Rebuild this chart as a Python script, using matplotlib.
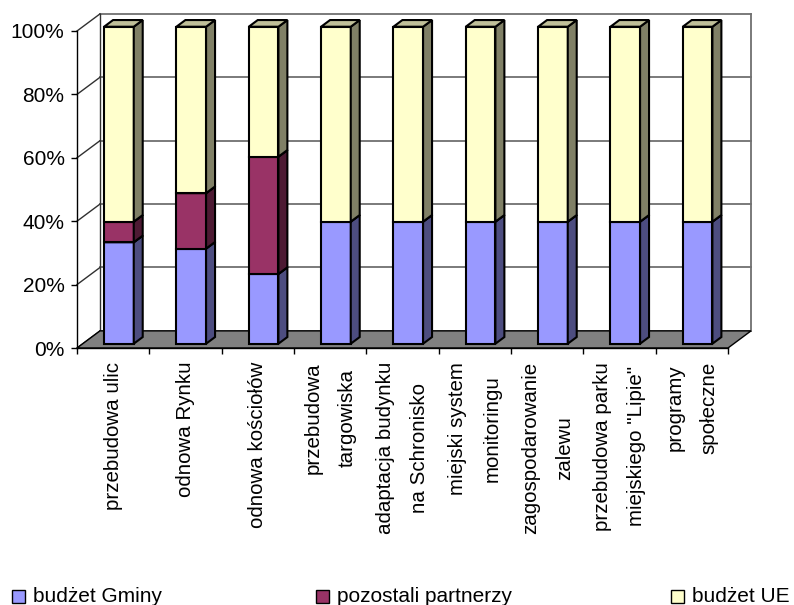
import matplotlib
matplotlib.use('Agg')
import matplotlib.pyplot as plt
from matplotlib.patches import Polygon, Rectangle

plt.rcParams['font.family'] = ['Liberation Sans', 'DejaVu Sans']

# Data: share of each funding source per project (%)
categories = [
    'przebudowa ulic',
    'odnowa Rynku',
    'odnowa kościołów',
    'przebudowa\ntargowiska',
    'adaptacja budynku\nna Schronisko',
    'miejski system\nmonitoringu',
    'zagospodarowanie\nzalewu',
    'przebudowa parku\nmiejskiego "Lipie"',
    'programy\nspołeczne',
]
budzet_gminy = [32, 30, 22, 38.5, 38.5, 38.5, 38.5, 38.5, 38.5]
pozostali_partnerzy = [6.5, 17.5, 37, 0, 0, 0, 0, 0, 0]
budzet_ue = [61.5, 52.5, 41, 61.5, 61.5, 61.5, 61.5, 61.5, 61.5]
series_names = ['budżet Gminy', 'pozostali partnerzy', 'budżet UE']
y_ticks = [0, 20, 40, 60, 80, 100]

# colours: front face, side face, top face
colors = [
    ('#9999FF', '#4D4D80', '#7373BF'),
    ('#993366', '#4D1A33', '#732650'),
    ('#FFFFCC', '#808066', '#C0C099'),
]

# oblique depth offset (x in category units, y in percent)
DX, DY = 0.318, 5.4
D0, D1 = 0.25, 0.64   # front / back depth of the columns
W = 0.41              # column width

W_PX, H_PX = 794, 605
fig = plt.figure(figsize=(W_PX / 100, H_PX / 100), dpi=100)
fig.patch.set_facecolor('white')
ax = fig.add_axes([77 / W_PX, (H_PX - 348) / H_PX, 651 / W_PX, 317 / H_PX])
n = len(categories)
ax.set_xlim(0, n)
ax.set_ylim(0, 100)
ax.patch.set_visible(False)


def p(x, y, d):
    return (x + d * DX, y + d * DY)


grid_col = '#707070'

# back wall with gridlines
for v in y_ticks:
    ax.plot([DX, n + DX], [v + DY, v + DY], color=grid_col, lw=1.3,
            clip_on=False, zorder=1)
    ax.plot([0, DX], [v, v + DY], color='#303030', lw=1.0,
            clip_on=False, zorder=1)
ax.plot([DX, DX], [DY, 100 + DY], color='#303030', lw=1.0, clip_on=False, zorder=1)
ax.plot([n + DX, n + DX], [DY, 100 + DY], color=grid_col, lw=1.3, clip_on=False, zorder=1)

# floor
floor = Polygon([p(0, 0, 0), p(n, 0, 0), p(n, 0, 1), p(0, 0, 1)], closed=True,
                facecolor='#808080', edgecolor='black', lw=1.0,
                clip_on=False, zorder=2)
ax.add_patch(floor)

# columns
stack = [budzet_gminy, pozostali_partnerzy, budzet_ue]
for i in range(n):
    xl = i + 0.5 - W / 2
    xr = i + 0.5 + W / 2
    bottom = 0
    for s, vals in enumerate(stack):
        v = vals[i]
        if v <= 0:
            continue
        top = bottom + v
        front_c, side_c, top_c = colors[s]
        kw = dict(closed=True, edgecolor='black', lw=1.5, clip_on=False,
                  joinstyle='miter', zorder=3)
        ax.add_patch(Polygon([p(xl, bottom, D0), p(xr, bottom, D0),
                              p(xr, top, D0), p(xl, top, D0)],
                             facecolor=front_c, **kw))
        ax.add_patch(Polygon([p(xr, bottom, D0), p(xr, bottom, D1),
                              p(xr, top, D1), p(xr, top, D0)],
                             facecolor=side_c, **kw))
        ax.add_patch(Polygon([p(xl, top, D0), p(xr, top, D0),
                              p(xr, top, D1), p(xl, top, D1)],
                             facecolor=top_c, **kw))
        bottom = top

# axes
for side in ['top', 'right']:
    ax.spines[side].set_visible(False)
for side in ['left', 'bottom']:
    ax.spines[side].set_color('black')
    ax.spines[side].set_linewidth(1.0)
    ax.spines[side].set_zorder(4)
ax.set_yticks(y_ticks)
ax.set_yticklabels([f'{v}%' for v in y_ticks], fontsize=15)
ax.set_xticks(range(n + 1))
ax.set_xticklabels([])
ax.tick_params(axis='both', direction='out', length=4, width=1.0, color='black')
ax.tick_params(axis='y', pad=5)

for i, lab in enumerate(categories):
    ax.annotate(lab, xy=(i + 0.5, 0), xytext=(0, -10), textcoords='offset points',
                rotation=90, ha='center', va='top', multialignment='center',
                linespacing=2.0, fontsize=14.8, annotation_clip=False)

# legend along the bottom edge
leg_sq_x = [12, 316, 671]
leg_txt_x = [33, 337, 692]
leg_y = 596
sq = 13
for k, name in enumerate(series_names):
    fig.patches.append(Rectangle((leg_sq_x[k] / W_PX, (H_PX - leg_y - sq / 2) / H_PX),
                                 sq / W_PX, sq / H_PX, transform=fig.transFigure,
                                 facecolor=colors[k][0], edgecolor='black', lw=1.0))
    fig.text(leg_txt_x[k] / W_PX, (H_PX - leg_y) / H_PX, name, fontsize=15,
             ha='left', va='center')

fig.savefig('out.png', dpi=100, facecolor='white')
